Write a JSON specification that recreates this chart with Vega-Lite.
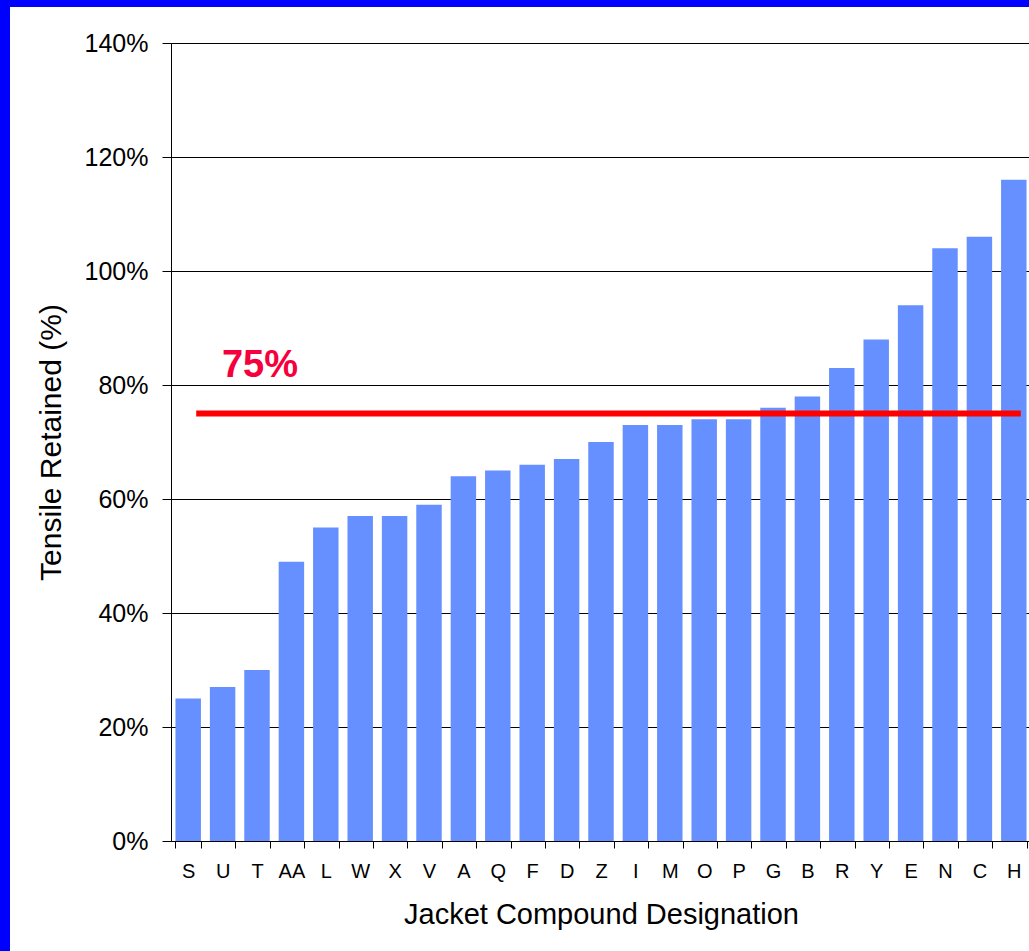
{
  "$schema": "https://vega.github.io/schema/vega-lite/v6.json",
  "width": 1019,
  "height": 944,
  "autosize": {"type": "none"},
  "padding": {"left": 10, "top": 7, "right": 0, "bottom": 0},
  "background": "#0000FF",
  "config": {
    "view": {"fill": "#FFFFFF", "stroke": null},
    "font": "Liberation Sans",
    "axis": {
      "domainColor": "#000000",
      "domainWidth": 1,
      "tickColor": "#000000",
      "labelColor": "#000000",
      "titleColor": "#000000",
      "labelFont": "Liberation Sans",
      "titleFont": "Liberation Sans",
      "titleFontWeight": "normal"
    }
  },
  "datasets": {
    "compounds": [
      {"compound": "S", "retained": 25},
      {"compound": "U", "retained": 27},
      {"compound": "T", "retained": 30},
      {"compound": "AA", "retained": 49},
      {"compound": "L", "retained": 55},
      {"compound": "W", "retained": 57},
      {"compound": "X", "retained": 57},
      {"compound": "V", "retained": 59},
      {"compound": "A", "retained": 64},
      {"compound": "Q", "retained": 65},
      {"compound": "F", "retained": 66},
      {"compound": "D", "retained": 67},
      {"compound": "Z", "retained": 70},
      {"compound": "I", "retained": 73},
      {"compound": "M", "retained": 73},
      {"compound": "O", "retained": 74},
      {"compound": "P", "retained": 74},
      {"compound": "G", "retained": 76},
      {"compound": "B", "retained": 78},
      {"compound": "R", "retained": 83},
      {"compound": "Y", "retained": 88},
      {"compound": "E", "retained": 94},
      {"compound": "N", "retained": 104},
      {"compound": "C", "retained": 106},
      {"compound": "H", "retained": 116}
    ],
    "limit": [
      {"threshold": 75, "label": "75%"}
    ]
  },
  "layer": [
    {
      "data": {"name": "compounds"},
      "mark": {"type": "bar", "color": "#6690FF"},
      "encoding": {
        "x": {
          "field": "compound",
          "type": "nominal",
          "sort": null,
          "scale": {"range": [161, 1021], "paddingInner": 0.26, "paddingOuter": 0.13},
          "axis": {
            "title": "Jacket Compound Designation",
            "titleFontSize": 29,
            "titlePadding": 19,
            "labelFontSize": 20,
            "labelAngle": 0,
            "labelPadding": 13,
            "tickSize": 7,
            "tickBand": "extent",
            "offset": -110,
            "grid": false
          }
        },
        "y": {
          "field": "retained",
          "type": "quantitative",
          "scale": {"domain": [0, 140], "range": [834, 36], "nice": false},
          "axis": {
            "title": "Tensile Retained (%)",
            "titleFontSize": 30,
            "titlePadding": 18,
            "values": [0, 20, 40, 60, 80, 100, 120, 140],
            "labelExpr": "datum.value + '%'",
            "labelFontSize": 25,
            "labelPadding": 14,
            "tickSize": 9,
            "offset": -161,
            "grid": true,
            "gridColor": "#000000",
            "gridWidth": 1,
            "gridOpacity": 1
          }
        }
      }
    },
    {
      "data": {"name": "limit"},
      "mark": {"type": "rule", "color": "#FF0000", "strokeWidth": 6, "xOffset": 8, "x2Offset": 7},
      "encoding": {
        "x": {"datum": "S", "type": "nominal"},
        "x2": {"datum": "H"},
        "y": {"field": "threshold", "type": "quantitative"}
      }
    },
    {
      "data": {"name": "limit"},
      "mark": {"type": "text", "color": "#F5003C", "fontSize": 38, "fontWeight": "bold", "align": "center", "baseline": "alphabetic", "dx": 3, "dy": -37},
      "encoding": {
        "x": {"datum": "T", "type": "nominal"},
        "y": {"field": "threshold", "type": "quantitative"},
        "text": {"field": "label"}
      }
    }
  ]
}
